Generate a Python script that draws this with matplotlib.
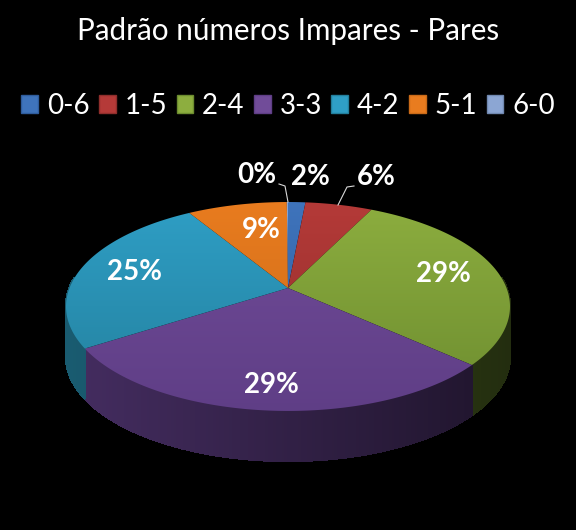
import numpy as np
import matplotlib
matplotlib.use("Agg")
import matplotlib.pyplot as plt
from matplotlib.colors import to_rgb
from matplotlib.patches import Patch, Polygon

categories = ["0-6", "1-5", "2-4", "3-3", "4-2", "5-1", "6-0"]
shares = [1.5, 5.8, 29.4, 29.2, 25.4, 8.6, 0.1]
colors_top = ["#3F74BC", "#B53A38", "#8DAE3F", "#714C99", "#2F9FC6", "#E97C1F", "#8CA6D3"]
colors_low = ["#2F5C9C", "#8F2E2C", "#6C8C2F", "#5F3E86", "#237F9C", "#C96A18", "#7088B0"]

plt.rcParams["font.family"] = ["Lato", "DejaVu Sans"]

fig = plt.figure(figsize=(5.76, 5.30), dpi=100, facecolor="black")
ax = fig.add_axes([0, 0, 1, 1])
ax.set_facecolor("black")
ax.axis("off")

# pie geometry in pixels, tilted disc with perspective
cx, cy = 288, 288
tilt = 0.177
b = 218.5
a = 101.2
depth = 50


def rim(theta):
    u, v = np.sin(theta), np.cos(theta)
    w = 1 + tilt * v
    return cx + b * u / w, cy - a * v / w


edges = np.cumsum([0] + shares) / sum(shares) * 2 * np.pi

# side wall first, made of thin strips so it can fade left to right
for i in range(len(shares)):
    t = np.linspace(edges[i], edges[i + 1], max(2, int(shares[i] * 6)))
    for t0, t1 in zip(t[:-1], t[1:]):
        if np.cos((t0 + t1) / 2) > 0.1:
            continue
        x, y = rim(np.array([t0, t1]))
        f = 0.52 - 0.2 * (x.mean() - cx) / 222
        col = np.array(to_rgb(colors_low[i])) * f
        ax.fill([x[0], x[1], x[1], x[0]], [y[0], y[1], y[1] + depth, y[0] + depth],
                color=col, lw=1.0, antialiased=False, zorder=1)

# top faces with a soft vertical gradient
for i in range(len(shares)):
    t = np.linspace(edges[i], edges[i + 1], max(3, int(shares[i] * 4)))
    x, y = rim(t)
    pts = np.column_stack([np.r_[cx, x], np.r_[cy, y]])
    poly = Polygon(pts, closed=True, facecolor="none", edgecolor="none", transform=ax.transData)
    ax.add_patch(poly)
    c0, c1 = np.array(to_rgb(colors_top[i])), np.array(to_rgb(colors_low[i]))
    ramp = np.linspace(0, 1, 220)[:, None, None]
    img = c0[None, None, :] * (1 - ramp) + c1[None, None, :] * ramp
    im = ax.imshow(img, extent=[60, 516, 415, 198], aspect="auto", zorder=2, interpolation="bilinear")
    im.set_clip_path(poly)

ax.set_xlim(0, 576)
ax.set_ylim(530, 0)

# percentage labels
label_pos = [(310, 177), (376, 177), (443, 274), (271, 385), (134, 272), (261, 230), (257, 175)]
for share, (px, py) in zip(shares, label_pos):
    ax.text(px, py, f"{share:.0f}%", color="white", fontsize=20, fontweight="bold",
            ha="center", va="center", zorder=4)

# leader lines for the two small outer labels
ax.plot([288, 285, 279], [202, 186, 184], color="#d9d9d9", lw=0.8, zorder=3)
ax.plot([338, 347, 354], [205, 187, 186], color="#d9d9d9", lw=0.8, zorder=3)

ax.text(288, 31, "Padrão números Impares - Pares", color="white", fontsize=21.3,
        ha="center", va="center")

handles = [Patch(facecolor=c, edgecolor=d, label=n)
           for c, d, n in zip(colors_top, colors_low, categories)]
leg = ax.legend(handles=handles, ncol=7, loc="center", bbox_to_anchor=(0.5, 0.8),
                bbox_transform=fig.transFigure, frameon=False, fontsize=20,
                handlelength=0.6, handleheight=0.6, handletextpad=0.32,
                columnspacing=0.34, labelcolor="white", borderpad=0, borderaxespad=0)

plt.savefig("out.png", dpi=100, facecolor="black")
